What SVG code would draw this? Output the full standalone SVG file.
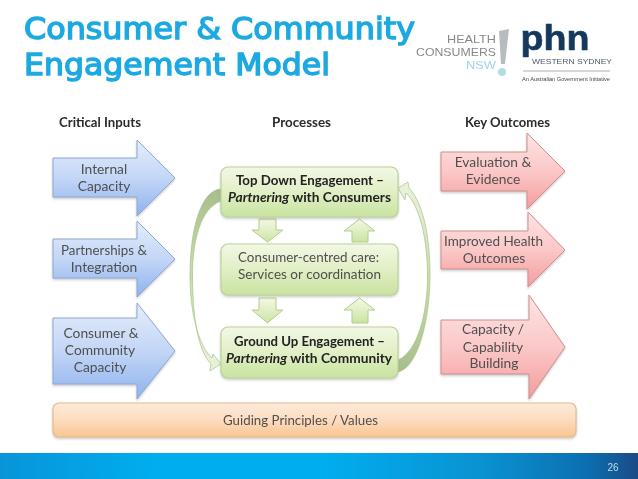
<svg xmlns="http://www.w3.org/2000/svg" width="638" height="479" viewBox="0 0 638 479">
<defs>
<linearGradient id="gb" x1="0" y1="0" x2="0" y2="1"><stop offset="0" stop-color="#e4edfb"/><stop offset="0.5" stop-color="#c3d6f6"/><stop offset="1" stop-color="#8db2ee"/></linearGradient>
<linearGradient id="gr" x1="0" y1="0" x2="0" y2="1"><stop offset="0" stop-color="#fde4e4"/><stop offset="0.5" stop-color="#fbc8c8"/><stop offset="1" stop-color="#f49c9c"/></linearGradient>
<linearGradient id="gg" x1="0" y1="0" x2="0" y2="1"><stop offset="0" stop-color="#f2f8e4"/><stop offset="0.5" stop-color="#e1efc5"/><stop offset="1" stop-color="#c9e3a0"/></linearGradient>
<linearGradient id="go" x1="0" y1="0" x2="0" y2="1"><stop offset="0" stop-color="#fdeadb"/><stop offset="0.5" stop-color="#fcdcbf"/><stop offset="1" stop-color="#f9c590"/></linearGradient>
<linearGradient id="gf" x1="0" y1="0" x2="1" y2="0"><stop offset="0" stop-color="#0795d8"/><stop offset="0.25" stop-color="#00aeef"/><stop offset="0.5" stop-color="#00aeef"/><stop offset="0.75" stop-color="#0a93d3"/><stop offset="0.92" stop-color="#0b6fb0"/><stop offset="1" stop-color="#1c4a86"/></linearGradient>
<linearGradient id="cl" x1="0" y1="0" x2="0" y2="1"><stop offset="0" stop-color="#a8bd8c"/><stop offset="0.35" stop-color="#c2d6a4"/><stop offset="1" stop-color="#eaf3da"/></linearGradient>
<linearGradient id="cr" x1="0" y1="1" x2="0" y2="0"><stop offset="0" stop-color="#a8bd8c"/><stop offset="0.35" stop-color="#c2d6a4"/><stop offset="1" stop-color="#eaf3da"/></linearGradient>
<filter id="soft" x="-5%" y="-20%" width="110%" height="140%"><feGaussianBlur stdDeviation="0.35"/></filter>
<filter id="sh" x="-10%" y="-10%" width="120%" height="125%"><feDropShadow dx="0" dy="1.5" stdDeviation="1.2" flood-color="#777" flood-opacity="0.4"/></filter>
</defs>
<style>
text{font-family:"Lato","Liberation Sans",sans-serif;fill:#4f4f4f;font-size:13.8px;text-anchor:middle;filter:url(#soft)}
.h{font-weight:700;fill:#2c2c2c;font-size:13px}
.b{font-weight:700;fill:#222;font-size:13px}
.t{font-family:"DejaVu Sans",sans-serif;font-weight:400;fill:#1fa9e1;stroke:#1fa9e1;stroke-width:1.4px;font-size:29.5px;text-anchor:start}
.blue{fill:url(#gb);stroke:#8ea9d2;stroke-width:1;filter:url(#sh)}
.red{fill:url(#gr);stroke:#cf8f8f;stroke-width:1;filter:url(#sh)}
.box{fill:url(#gg);stroke:#bdd29b;stroke-width:1.2;filter:url(#sh)}
.sm{fill:url(#gg);stroke:#b5cc90;stroke-width:1}
.cvl{fill:url(#cl);stroke:#a9c38a;stroke-width:0.7}
.cvr{fill:url(#cr);stroke:#a9c38a;stroke-width:0.7}
.lg{font-family:"Liberation Sans",sans-serif;text-anchor:end;fill:#85898c;font-size:11px}
</style>
<rect width="638" height="479" fill="#fff"/>

<g id="title">
<text class="t" x="24" y="39" textLength="391" lengthAdjust="spacingAndGlyphs">Consumer &amp; Community</text>
<text class="t" x="24" y="75" textLength="306" lengthAdjust="spacingAndGlyphs">Engagement Model</text>
</g>

<g id="logo-health-consumers">
<text class="lg" x="496" y="43" textLength="49" lengthAdjust="spacingAndGlyphs">HEALTH</text>
<text class="lg" x="496" y="56" textLength="80" lengthAdjust="spacingAndGlyphs">CONSUMERS</text>
<text class="lg" x="496" y="69" style="fill:#9fd3e6" textLength="30" lengthAdjust="spacingAndGlyphs">NSW</text>
<path d="M499 31L509 29L505 64L501 64Z" fill="#b9bcbe"/>
<circle cx="502" cy="72" r="4" fill="#b4dde0"/>
</g>
<g id="logo-phn">
<text x="555" y="50" style="font-family:'Liberation Sans',sans-serif;font-weight:700;font-size:35px;fill:#14395e;stroke:#14395e;stroke-width:0.6px" textLength="69" lengthAdjust="spacingAndGlyphs">phn</text>
<text x="572" y="64" style="font-family:'Liberation Sans',sans-serif;font-size:8px;fill:#4c5a68" textLength="80" lengthAdjust="spacingAndGlyphs">WESTERN SYDNEY</text>
<line x1="523" y1="71" x2="610" y2="71" stroke="#777" stroke-width="0.6"/>
<text x="566" y="80.500" style="font-family:'Liberation Sans',sans-serif;font-size:5.500px;fill:#444" textLength="88" lengthAdjust="spacingAndGlyphs">An Australian Government Initiative</text>
</g>

<g id="headers">
<text class="h" x="100" y="127" textLength="82" lengthAdjust="spacingAndGlyphs">Critical Inputs</text>
<text class="h" x="301.500" y="127" textLength="59" lengthAdjust="spacingAndGlyphs">Processes</text>
<text class="h" x="507.500" y="127" textLength="85" lengthAdjust="spacingAndGlyphs">Key Outcomes</text>
</g>

<g id="connectors">
<path class="cvl" d="M221 189C200 190 190 232 190 275C190 312 198 345 212 358L213 354L221 364L210 371L211 364C197 350 192.500 312 192.500 275C192.500 240 201 208 221 201Z"/>
<path class="cvr" d="M398 372C418 368 430 320 430 275C430 235 423 203 409 188L408 182L398 188L405 200L406 193C419 205 427.500 238 427.500 275C427.500 315 417 352 398 360Z"/>
<path class="sm" d="M259 219H276V230H283L267.500 242L252 230H259Z"/>
<path class="sm" d="M352 242V231H344L359.500 219L375 231H368V242Z"/>
<path class="sm" d="M259 298H276V310H283L267.500 323L252 310H259Z"/>
<path class="sm" d="M352 323V310H344L359.500 298L375 310H368V323Z"/>
</g>

<g id="input-internal-capacity">
<path class="blue" d="M53 158H137V140L175 178L137 216V197H53Z"/>
<text x="104" y="174">Internal</text><text x="104" y="191">Capacity</text>
</g>
<g id="input-partnerships">
<path class="blue" d="M53 239H137V221L175 259L137 297V278H53Z"/>
<text x="104" y="255" textLength="86" lengthAdjust="spacingAndGlyphs">Partnerships &amp;</text><text x="104" y="272">Integration</text>
</g>
<g id="input-community-capacity">
<path class="blue" d="M53 318H137V303L175 351L137 399V384H53Z"/>
<text x="101" y="338">Consumer &amp;</text><text x="100" y="355">Community</text><text x="100" y="372">Capacity</text>
</g>

<g id="process-top-down">
<rect class="box" x="221" y="167" width="177" height="50" rx="7"/>
<text class="b" x="310" y="185" textLength="148" lengthAdjust="spacingAndGlyphs">Top Down Engagement –</text>
<text class="b" x="309.500" y="202" textLength="163" lengthAdjust="spacingAndGlyphs"><tspan font-style="italic">Partnering</tspan> with Consumers</text>
</g>
<g id="process-consumer-centred">
<rect class="box" x="221" y="244" width="177" height="51" rx="7"/>
<text x="308.500" y="262" textLength="141" lengthAdjust="spacingAndGlyphs">Consumer-centred care:</text>
<text x="309.500" y="279" textLength="143" lengthAdjust="spacingAndGlyphs">Services or coordination</text>
</g>
<g id="process-ground-up">
<rect class="box" x="221" y="327" width="177" height="51" rx="7"/>
<text class="b" x="309.500" y="346" textLength="151" lengthAdjust="spacingAndGlyphs">Ground Up Engagement –</text>
<text class="b" x="309" y="363" textLength="166" lengthAdjust="spacingAndGlyphs"><tspan font-style="italic">Partnering</tspan> with Community</text>
</g>

<g id="outcome-evaluation">
<path class="red" d="M441 152H527V133L565 171L527 209V191H441Z"/>
<text x="493" y="167">Evaluation &amp;</text><text x="493" y="184">Evidence</text>
</g>
<g id="outcome-health">
<path class="red" d="M441 231H528V212L565 250L528 287V269H441Z"/>
<text x="493.500" y="246" textLength="99" lengthAdjust="spacingAndGlyphs">Improved Health</text><text x="494" y="263">Outcomes</text>
</g>
<g id="outcome-capacity">
<path class="red" d="M441 320H529V295L565 347L529 399V374H441Z"/>
<text x="493" y="334">Capacity /</text><text x="493" y="352">Capability</text><text x="494" y="368">Building</text>
</g>

<g id="guiding-principles">
<rect x="53" y="403" width="523" height="34" rx="6" fill="url(#go)" stroke="#e4bb90" stroke-width="1.200" filter="url(#sh)"/>
<text x="300.500" y="425" textLength="155" lengthAdjust="spacingAndGlyphs">Guiding Principles / Values</text>
</g>

<g id="footer">
<rect x="0" y="453" width="638" height="26" fill="url(#gf)"/>
<text x="613" y="471" style="font-size:10px;fill:#b7dff2;font-family:'Liberation Sans',sans-serif">26</text>
</g>
</svg>
